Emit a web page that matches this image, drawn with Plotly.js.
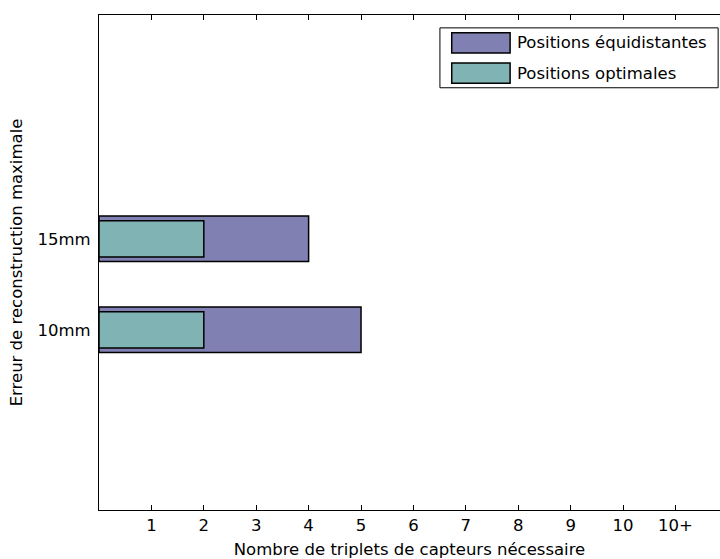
<!DOCTYPE html>
<html>
<head>
<meta charset="utf-8">
<script src="https://cdn.plot.ly/plotly-3.0.1.min.js"></script>
<style>html,body{margin:0;padding:0;overflow:hidden;background:#fff}</style>
</head>
<body>
<div id="chart" style="width:720px;height:559px"></div>
<script>
const categories = ["10mm", "15mm"];
const seriesNames = ["Positions équidistantes", "Positions optimales"];
const equidistantes = [5, 4];
const optimales = [2, 2];
const xTickVals = [1, 2, 3, 4, 5, 6, 7, 8, 9, 10, 11];
const xTickText = ["1", "2", "3", "4", "5", "6", "7", "8", "9", "10", "10+"];
const colors = ["#8080B3", "#80B3B3"];

const FONT = "DejaVu Sans, Liberation Sans, sans-serif";
const FS = 16.5;

const traces = [
  {type: "bar", orientation: "h", y: categories, x: equidistantes, name: seriesNames[0],
   width: 0.5, marker: {color: colors[0], line: {color: "#000", width: 1.5}}, showlegend: false},
  {type: "bar", orientation: "h", y: categories, x: optimales, name: seriesNames[1],
   width: 0.4, marker: {color: colors[1], line: {color: "#000", width: 1.5}}, showlegend: false}
];

// manual MATLAB-style legend
const L = {x0: 0.549, x1: 0.997, y0: 0.853, y1: 0.974};
const sw = [{y0: 0.923, y1: 0.964}, {y0: 0.862, y1: 0.903}];
const shapes = [
  {type: "rect", xref: "paper", yref: "paper", x0: L.x0, x1: L.x1, y0: L.y0, y1: L.y1,
   fillcolor: "#fff", line: {color: "#000", width: 1}}
];
const annotations = [];
seriesNames.forEach((n, i) => {
  shapes.push({type: "rect", xref: "paper", yref: "paper", x0: 0.568, x1: 0.662, y0: sw[i].y0, y1: sw[i].y1,
    fillcolor: colors[i], line: {color: "#000", width: 1.5}});
  annotations.push({xref: "paper", yref: "paper", x: 0.670, y: (sw[i].y0 + sw[i].y1) / 2,
    xanchor: "left", yanchor: "middle", text: n, showarrow: false,
    font: {family: FONT, size: FS, color: "#000"}});
});

const layout = {
  width: 720, height: 559,
  margin: {l: 99, r: 0, t: 15, b: 49},
  paper_bgcolor: "#fff", plot_bgcolor: "#fff",
  barmode: "overlay",
  font: {family: FONT, size: FS, color: "#000"},
  xaxis: {range: [0, 11.85], tickvals: xTickVals, ticktext: xTickText,
    ticks: "inside", ticklen: 5, tickcolor: "#000", mirror: "ticks",
    showline: true, linecolor: "#000", linewidth: 1, showgrid: false, zeroline: false,
    tickfont: {family: FONT, size: FS},
    title: {text: "Nombre de triplets de capteurs nécessaire", font: {family: FONT, size: FS}, standoff: 9}},
  yaxis: {type: "category", range: [-1.98, 3.46], ticks: "", showline: true, linecolor: "#000",
    linewidth: 1, showgrid: false, zeroline: false, ticklabelstandoff: 4,
    tickfont: {family: FONT, size: FS},
    title: {text: "Erreur de reconstruction maximale", font: {family: FONT, size: FS}, standoff: 10}},
  shapes: shapes,
  annotations: annotations,
  showlegend: false
};

Plotly.newPlot("chart", traces, layout, {displayModeBar: false, staticPlot: true});
</script>
</body>
</html>
